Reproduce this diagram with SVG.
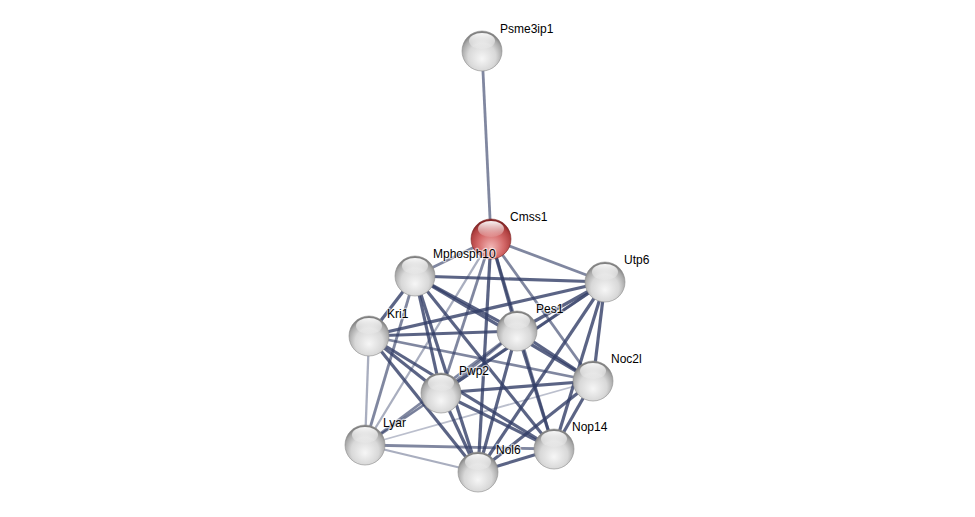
<svg xmlns="http://www.w3.org/2000/svg" width="975" height="517" viewBox="0 0 975 517">
<style>
.e{stroke:#323d66;fill:none;stroke-linecap:butt}
.s{stroke-width:3.2;stroke-opacity:0.8}
.m{stroke-width:2.8;stroke-opacity:0.62}
.w{stroke-width:2.3;stroke-opacity:0.42}
.x{stroke-width:1.8;stroke-opacity:0.33}
.lbl{font-family:"Liberation Sans",Arial,sans-serif;font-size:12px;fill:#000;stroke:#ffffff;stroke-opacity:0.6;stroke-width:2.5;paint-order:stroke;stroke-linejoin:round}
</style>
<defs>
<radialGradient id="gg" cx="50%" cy="62%" r="58%" fx="50%" fy="70%">
<stop offset="0%" stop-color="#f6f6f6"/>
<stop offset="60%" stop-color="#d8d8d8"/>
<stop offset="88%" stop-color="#a8a8a8"/>
<stop offset="100%" stop-color="#808080"/>
</radialGradient>
<radialGradient id="rg" cx="50%" cy="62%" r="58%" fx="50%" fy="72%">
<stop offset="0%" stop-color="#f2b8b8"/>
<stop offset="55%" stop-color="#d56a6a"/>
<stop offset="88%" stop-color="#b04040"/>
<stop offset="100%" stop-color="#842626"/>
</radialGradient>
<linearGradient id="hl" x1="0" y1="0" x2="0" y2="1">
<stop offset="0%" stop-color="#ffffff" stop-opacity="0.95"/>
<stop offset="100%" stop-color="#ffffff" stop-opacity="0.1"/>
</linearGradient>
<g id="ball"><circle r="20" fill="url(#gg)" stroke="#8f8f8f" stroke-width="0.6"/><ellipse cx="0" cy="-10" rx="13" ry="8" fill="url(#hl)"/></g>
<g id="rball"><circle r="20" fill="url(#rg)" stroke="#802828" stroke-width="0.6"/><ellipse cx="0" cy="-10" rx="13" ry="8" fill="url(#hl)"/></g>
</defs>
<rect width="975" height="517" fill="#ffffff"/>
<g id="edges">
<line class="e m" x1="482" y1="51" x2="491" y2="239"/>
<line class="e m" x1="491" y1="239" x2="415" y2="276"/>
<line class="e m" x1="491" y1="239" x2="605" y2="282"/>
<line class="e m" x1="491" y1="239" x2="441" y2="393"/>
<line class="e w" x1="491" y1="239" x2="365" y2="445"/>
<line class="e s" x1="491" y1="239" x2="478" y2="472"/>
<line class="e s" x1="491" y1="239" x2="517" y2="331"/>
<line class="e m" x1="491" y1="239" x2="554" y2="449"/>
<line class="e m" x1="491" y1="239" x2="593" y2="381"/>
<line class="e s" x1="415" y1="276" x2="605" y2="282"/>
<line class="e s" x1="415" y1="276" x2="369" y2="336"/>
<line class="e s" x1="415" y1="276" x2="517" y2="331"/>
<line class="e s" x1="415" y1="276" x2="593" y2="381"/>
<line class="e s" x1="415" y1="276" x2="441" y2="393"/>
<line class="e m" x1="415" y1="276" x2="365" y2="445"/>
<line class="e s" x1="415" y1="276" x2="554" y2="449"/>
<line class="e s" x1="415" y1="276" x2="478" y2="472"/>
<line class="e s" x1="605" y1="282" x2="369" y2="336"/>
<line class="e s" x1="605" y1="282" x2="517" y2="331"/>
<line class="e s" x1="605" y1="282" x2="593" y2="381"/>
<line class="e s" x1="605" y1="282" x2="441" y2="393"/>
<line class="e w" x1="605" y1="282" x2="365" y2="445"/>
<line class="e s" x1="605" y1="282" x2="554" y2="449"/>
<line class="e s" x1="605" y1="282" x2="478" y2="472"/>
<line class="e s" x1="369" y1="336" x2="517" y2="331"/>
<line class="e m" x1="369" y1="336" x2="593" y2="381"/>
<line class="e s" x1="369" y1="336" x2="441" y2="393"/>
<line class="e w" x1="369" y1="336" x2="365" y2="445"/>
<line class="e s" x1="369" y1="336" x2="554" y2="449"/>
<line class="e s" x1="369" y1="336" x2="478" y2="472"/>
<line class="e s" x1="517" y1="331" x2="593" y2="381"/>
<line class="e m" x1="517" y1="331" x2="441" y2="393"/>
<line class="e m" x1="517" y1="331" x2="365" y2="445"/>
<line class="e s" x1="517" y1="331" x2="554" y2="449"/>
<line class="e s" x1="517" y1="331" x2="478" y2="472"/>
<line class="e s" x1="593" y1="381" x2="441" y2="393"/>
<line class="e x" x1="593" y1="381" x2="365" y2="445"/>
<line class="e s" x1="593" y1="381" x2="554" y2="449"/>
<line class="e s" x1="593" y1="381" x2="478" y2="472"/>
<line class="e w" x1="441" y1="393" x2="365" y2="445"/>
<line class="e s" x1="441" y1="393" x2="554" y2="449"/>
<line class="e s" x1="441" y1="393" x2="478" y2="472"/>
<line class="e m" x1="365" y1="445" x2="554" y2="449"/>
<line class="e w" x1="365" y1="445" x2="478" y2="472"/>
<line class="e s" x1="554" y1="449" x2="478" y2="472"/>
</g>
<g id="Psme3ip1"><use href="#ball" x="482" y="51"/><text class="lbl" x="500" y="33">Psme3ip1</text></g>
<g id="Cmss1"><use href="#rball" x="491" y="239"/><text class="lbl" x="510" y="221">Cmss1</text></g>
<g id="Mphosph10"><use href="#ball" x="415" y="276"/><text class="lbl" x="433" y="258">Mphosph10</text></g>
<g id="Utp6"><use href="#ball" x="605" y="282"/><text class="lbl" x="624" y="264">Utp6</text></g>
<g id="Kri1"><use href="#ball" x="369" y="336"/><text class="lbl" x="387" y="318">Kri1</text></g>
<g id="Pes1"><use href="#ball" x="517" y="331"/><text class="lbl" x="536" y="313">Pes1</text></g>
<g id="Noc2l"><use href="#ball" x="593" y="381"/><text class="lbl" x="611" y="363">Noc2l</text></g>
<g id="Pwp2"><use href="#ball" x="441" y="393"/><text class="lbl" x="459" y="375">Pwp2</text></g>
<g id="Lyar"><use href="#ball" x="365" y="445"/><text class="lbl" x="383" y="427">Lyar</text></g>
<g id="Nop14"><use href="#ball" x="554" y="449"/><text class="lbl" x="572" y="431">Nop14</text></g>
<g id="Nol6"><use href="#ball" x="478" y="472"/><text class="lbl" x="496" y="454">Nol6</text></g>
</svg>
